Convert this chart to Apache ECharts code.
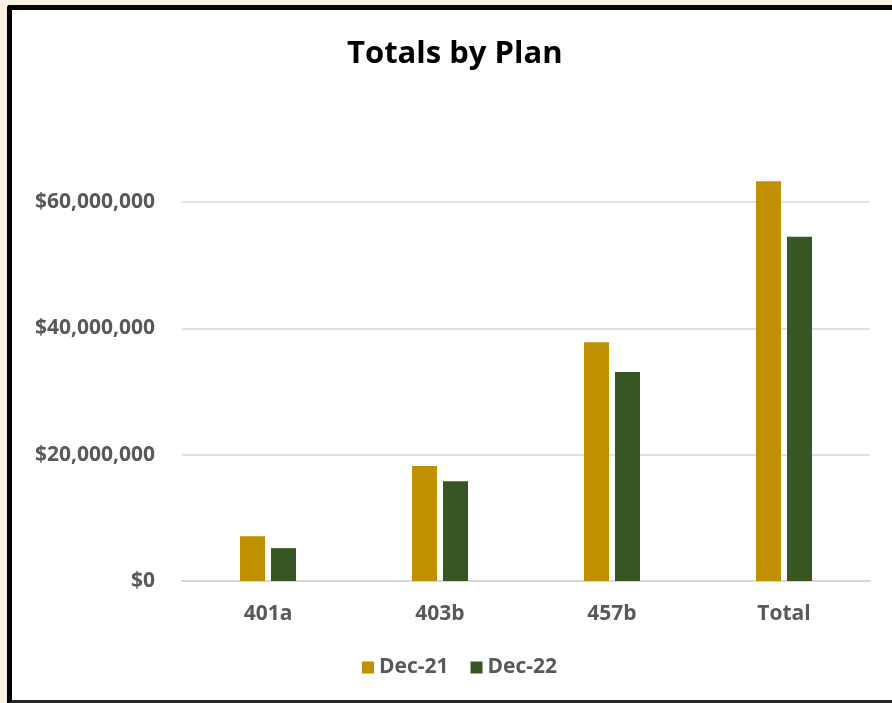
<!DOCTYPE html>
<html>
<head>
<meta charset="utf-8">
<script src="https://cdn.jsdelivr.net/npm/echarts@6/dist/echarts.min.js"></script>
<style>
  html, body { margin: 0; padding: 0; background: #f8f0e0; overflow: hidden; }
  #frame { position: absolute; left: 7px; top: 5px; width: 900px; height: 690px; border: 5px solid #000; border-bottom-color: #262626; border-radius: 3px; background: #fff; }
  #chart { position: absolute; left: 0; top: 0; width: 892px; height: 703px; }
</style>
</head>
<body>
<div id="frame"></div>
<div id="chart"></div>
<script>
// plan categories and year-end totals
var plans = ['401a', '403b', '457b', 'Total']
var dec21 = [7100000, 18200000, 37800000, 63300000]
var dec22 = [5200000, 15800000, 33100000, 54500000]

var chart = echarts.init(document.getElementById('chart'))
var labelFont = { color: '#595959', fontFamily: 'Open Sans', fontWeight: 'bold', fontSize: 21 }

chart.setOption({
  title: {
    text: 'Totals by Plan',
    left: 342,
    top: 34,
    textStyle: { color: '#000', fontFamily: 'Open Sans', fontWeight: 'bold', fontSize: 31 }
  },
  legend: {
    data: ['Dec-21', 'Dec-22'],
    top: 652,
    left: 357,
    itemWidth: 12,
    itemHeight: 12,
    itemGap: 22,
    icon: 'rect',
    textStyle: labelFont
  },
  grid: { left: 182, right: 22, top: 202, bottom: 122 },
  xAxis: {
    type: 'category',
    data: plans,
    axisTick: { show: false },
    axisLine: { lineStyle: { color: '#d9d9d9', width: 2 } },
    axisLabel: Object.assign({ margin: 23 }, labelFont)
  },
  yAxis: {
    type: 'value',
    min: 0,
    max: 60000000,
    interval: 20000000,
    axisLine: { show: false },
    axisTick: { show: false },
    splitLine: { lineStyle: { color: '#d9d9d9', width: 1.5 } },
    axisLabel: Object.assign({
      margin: 27,
      formatter: function(v) {
        return '$' + v.toLocaleString('en-US')
      }
    }, labelFont)
  },
  series: [
    {
      name: 'Dec-21',
      type: 'bar',
      data: dec21,
      barWidth: 25,
      barGap: '24%',
      clip: false,
      itemStyle: { color: '#bf9000' }
    },
    {
      name: 'Dec-22',
      type: 'bar',
      data: dec22,
      barWidth: 25,
      clip: false,
      itemStyle: { color: '#375623' }
    }
  ]
})
</script>
</body>
</html>
